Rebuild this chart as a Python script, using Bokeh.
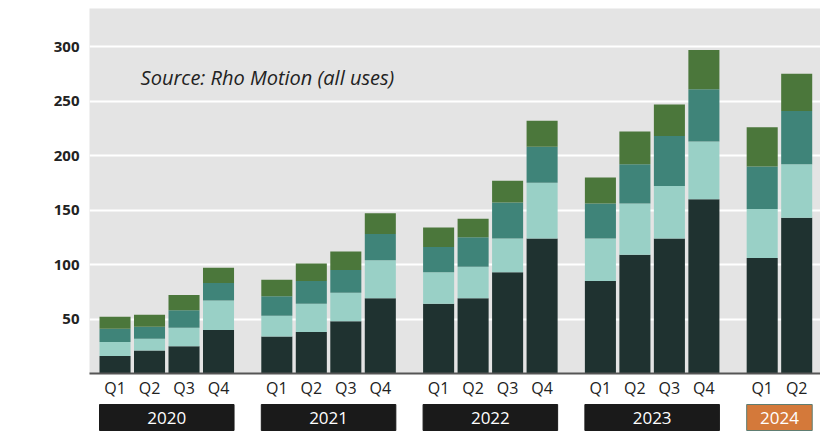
from bokeh.plotting import figure
from bokeh.layouts import column
from bokeh.models import ColumnDataSource, Range1d, FixedTicker, CustomJSTickFormatter, Label
from bokeh.embed import file_html
from bokeh.resources import INLINE
from bokeh.core.properties import value

# ---- data ----
year_names = ["2020", "2021", "2022", "2023", "2024"]
years = ["2020"] * 4 + ["2021"] * 4 + ["2022"] * 4 + ["2023"] * 4 + ["2024"] * 2
quarters = ["Q1", "Q2", "Q3", "Q4"] * 4 + ["Q1", "Q2"]
seg1 = [16, 21, 25, 40, 34, 38, 48, 69, 64, 69, 93, 124, 85, 109, 124, 160, 106, 143]
seg2 = [13, 11, 17, 27, 19, 26, 26, 35, 29, 29, 31, 51, 39, 47, 48, 53, 45, 49]
seg3 = [12, 11, 16, 16, 18, 21, 21, 24, 23, 27, 33, 33, 32, 36, 46, 48, 39, 49]
seg4 = [11, 11, 14, 14, 15, 16, 17, 19, 18, 17, 20, 24, 24, 30, 29, 36, 36, 34]
y_ticks = [50, 100, 150, 200, 250, 300]
source_note = "Source: Rho Motion (all uses)"

# ---- styles ----
FONT = "Open Sans"
colors = ["#1f3230", "#99d0c6", "#3f8479", "#4b773b"]
box_colors = ["#1a1a1a", "#1a1a1a", "#1a1a1a", "#1a1a1a", "#d4793a"]
box_lines = ["#1a1a1a", "#1a1a1a", "#1a1a1a", "#1a1a1a", "#5e7d72"]
GAP = 0.69
BAR_W = 0.9

# x positions: quarters side by side, extra gap between years
q_index = {"Q1": 0, "Q2": 1, "Q3": 2, "Q4": 3}
xs = [year_names.index(y) * (4 + GAP) + q_index[q] for y, q in zip(years, quarters)]

src = ColumnDataSource(dict(x=xs, s1=seg1, s2=seg2, s3=seg3, s4=seg4))

x_range = Range1d(-0.74, 20.45)

p = figure(width=820, height=403, x_range=x_range, y_range=Range1d(0, 335),
           output_backend="svg", toolbar_location=None,
           min_border_left=89, min_border_right=0, min_border_top=8, min_border_bottom=30)
p.background_fill_color = "#e4e4e4"
p.border_fill_color = "white"
p.outline_line_color = None

p.vbar_stack(["s1", "s2", "s3", "s4"], x="x", width=BAR_W, source=src,
             fill_color=colors, line_color=None)

# y axis
p.yaxis.ticker = FixedTicker(ticks=y_ticks)
p.yaxis.axis_line_color = None
p.yaxis.major_tick_line_color = None
p.yaxis.minor_tick_line_color = None
p.yaxis.major_tick_out = 0
p.yaxis.major_tick_in = 0
p.yaxis.major_label_text_font = FONT
p.yaxis.major_label_text_font_style = "bold"
p.yaxis.major_label_text_font_size = "15px"
p.yaxis.major_label_text_color = "#222222"
p.yaxis.major_label_standoff = 10

# x axis
p.xaxis.ticker = FixedTicker(ticks=xs)
p.xaxis.formatter = CustomJSTickFormatter(args=dict(pos=xs, labels=quarters), code="""
    let best = 0, bd = 1e9;
    for (let i = 0; i < pos.length; i++) {
        const d = Math.abs(pos[i] - tick);
        if (d < bd) { bd = d; best = i; }
    }
    return labels[best];
""")
p.xaxis.axis_line_color = "#555555"
p.xaxis.axis_line_width = 2
p.xaxis.major_tick_line_color = None
p.xaxis.minor_tick_line_color = None
p.xaxis.major_tick_out = 0
p.xaxis.major_tick_in = 0
p.xaxis.major_label_text_font = FONT
p.xaxis.major_label_text_font_size = "16px"
p.xaxis.major_label_text_color = "#222222"
p.xaxis.major_label_standoff = 3

p.xgrid.visible = False
p.ygrid.grid_line_color = "white"
p.ygrid.grid_line_width = 2

p.add_layout(Label(x=0.74, y=272, text=source_note, text_font=FONT,
                   text_font_style="italic", text_font_size="20px",
                   text_color="#222222", text_baseline="middle"))

# ---- year boxes ----
lefts, rights, centers = [], [], []
for yn in year_names:
    px = [x for x, y in zip(xs, years) if y == yn]
    lefts.append(min(px) - BAR_W / 2)
    rights.append(max(px) + BAR_W / 2)
    centers.append((min(px) + max(px)) / 2)

p2 = figure(width=820, height=29, x_range=x_range, y_range=Range1d(0, 29),
            output_backend="svg", toolbar_location=None,
            min_border_left=89, min_border_right=0, min_border_top=0, min_border_bottom=0)
p2.axis.visible = False
p2.grid.visible = False
p2.outline_line_color = None
p2.background_fill_color = "white"
p2.border_fill_color = "white"

bsrc = ColumnDataSource(dict(left=lefts, right=rights, cx=centers, label=year_names,
                             fc=box_colors, lc=box_lines))
p2.quad(left="left", right="right", bottom=2, top=28, source=bsrc,
        fill_color="fc", line_color="lc", line_width=1)
p2.text(x="cx", y=15, text="label", source=bsrc, text_align="center",
        text_baseline="middle", text_color="white", text_font=value(FONT),
        text_font_size="17px")

layout = column(p, p2, spacing=0)
open("out.html", "w").write(file_html(layout, INLINE))
